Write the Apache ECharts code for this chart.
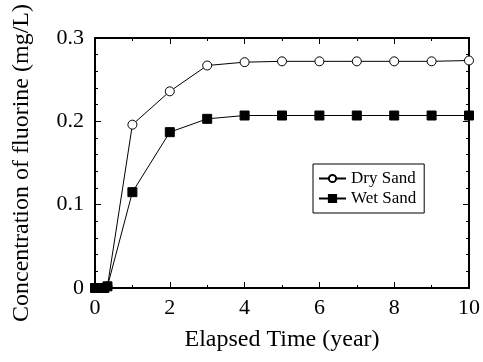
<!DOCTYPE html>
<html><head><meta charset="utf-8">
<script src="https://cdn.jsdelivr.net/npm/echarts@6/dist/echarts.min.js"></script>
<style>html,body{margin:0;padding:0;background:#fff}#c{width:483px;height:362px}</style>
</head><body><div id="c"></div>
<script>
const times = [0, 0.083, 0.167, 0.25, 0.333, 1, 2, 3, 4, 5, 6, 7, 8, 9, 10];
const drySand = [0, 0, 0, 0, 0.002, 0.196, 0.236, 0.267, 0.271, 0.272, 0.272, 0.272, 0.272, 0.272, 0.273];
const wetSand = [0, 0, 0, 0, 0.002, 0.115, 0.187, 0.203, 0.207, 0.207, 0.207, 0.207, 0.207, 0.207, 0.207];
const seriesNames = ['Dry Sand', 'Wet Sand'];
const xTitle = 'Elapsed Time (year)';
const yTitle = 'Concentration of fluorine (mg/L)';

const font = 'Liberation Serif';
const chart = echarts.init(document.getElementById('c'));
const pair = (xs, ys) => xs.map((x, i) => [x, ys[i]]);
function axisStyle(split) {
  return {
    axisLine: {show: true, onZero: false, lineStyle: {color: '#000', width: 2}},
    axisTick: {show: true, inside: true, length: 6, lineStyle: {color: '#000', width: 1}},
    minorTick: {show: true, splitNumber: split, length: 3, lineStyle: {color: '#000', width: 1}},
    splitLine: {show: false}
  };
}
chart.setOption({
  animation: false,
  backgroundColor: '#fff',
  grid: {left: 95, right: 12, top: 38, bottom: 74},
  legend: {
    orient: 'vertical', left: 313, top: 164,
    borderColor: '#000', borderWidth: 1, padding: [6, 8, 6, 5], itemGap: 3,
    itemWidth: 27, itemHeight: 9,
    textStyle: {fontFamily: font, fontSize: 17, color: '#000'},
    data: seriesNames
  },
  xAxis: [
    Object.assign({type: 'value', min: 0, max: 10, interval: 2, position: 'bottom',
      name: xTitle, nameLocation: 'middle', nameGap: 40,
      nameTextStyle: {fontFamily: font, fontSize: 24, color: '#000'},
      axisLabel: {fontFamily: font, fontSize: 22, color: '#000', margin: 9}
    }, axisStyle(2)),
    Object.assign({type: 'value', min: 0, max: 10, interval: 2, position: 'top',
      axisLabel: {show: false}}, axisStyle(2))
  ],
  yAxis: [
    Object.assign({type: 'value', min: 0, max: 0.3, interval: 0.1, position: 'left',
      name: yTitle, nameLocation: 'middle', nameGap: 61, nameRotate: 90,
      nameTextStyle: {fontFamily: font, fontSize: 24, color: '#000'},
      axisLabel: {fontFamily: font, fontSize: 22, color: '#000', margin: 11,
        formatter: v => v === 0 ? '0' : String(+v.toFixed(1))}
    }, axisStyle(5)),
    Object.assign({type: 'value', min: 0, max: 0.3, interval: 0.1, position: 'right',
      axisLabel: {show: false}}, axisStyle(5))
  ],
  series: [
    {name: seriesNames[0], type: 'line', data: pair(times, drySand), symbol: 'circle', symbolSize: 9,
      lineStyle: {color: '#000', width: 1}, itemStyle: {color: '#fff', borderColor: '#000', borderWidth: 1}, z: 3},
    {name: seriesNames[1], type: 'line', data: pair(times, wetSand), symbol: 'rect', symbolSize: 9,
      lineStyle: {color: '#000', width: 1}, itemStyle: {color: '#000', borderColor: '#000', borderWidth: 1}, z: 4}
  ]
});
</script></body></html>
